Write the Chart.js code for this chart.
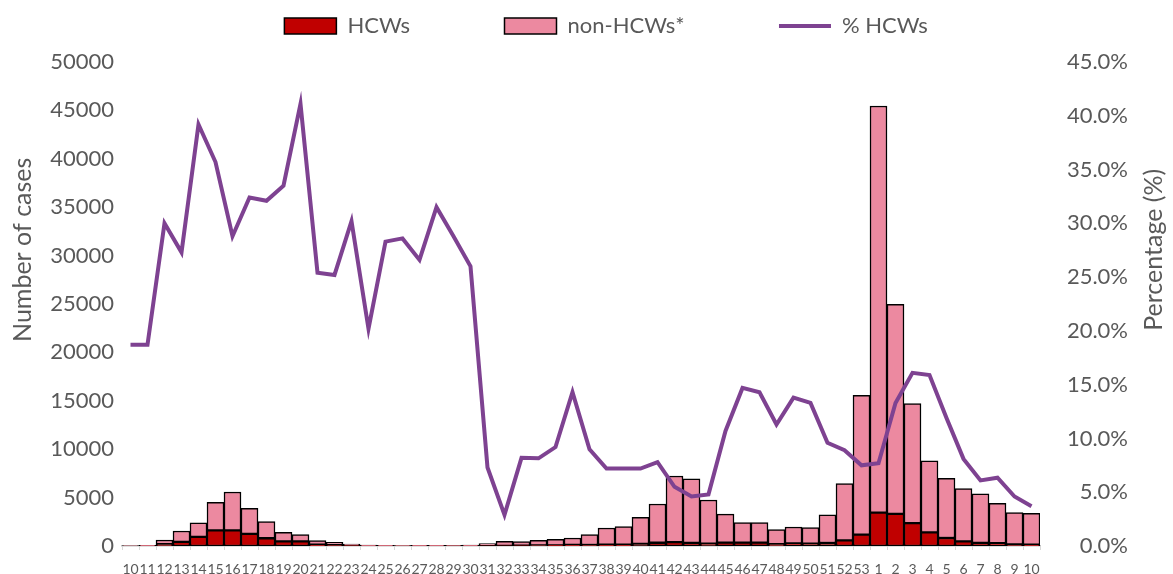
<!DOCTYPE html>
<html>
<head>
<meta charset="utf-8">
<script src="https://cdn.jsdelivr.net/npm/chart.js@4.4.1/dist/chart.umd.min.js"></script>
<style>
    html, body { margin: 0; padding: 0; background: #fff; }
    #chartBox { width: 1173px; height: 574px; }
</style>
</head>
<body>
<div id="chartBox"><canvas id="casesChart" width="1173" height="574"></canvas></div>
<script>
// Epidemiological weeks (year wraps after week 53)
const weeks = ['10', '11', '12', '13', '14', '15', '16', '17', '18', '19', '20', '21', '22', '23', '24', '25',
    '26', '27', '28', '29', '30', '31', '32', '33', '34', '35', '36', '37', '38', '39', '40', '41', '42',
    '43', '44', '45', '46', '47', '48', '49', '50', '51', '52', '53', '1', '2', '3', '4', '5', '6', '7',
    '8', '9', '10'];

// Cases among health care workers
const hcws = [6, 11, 190, 420, 940, 1610, 1610, 1260, 800, 470, 480, 140, 95, 60, 20, 17, 11, 16, 22, 23, 23,
    18, 14, 38, 48, 63, 119, 105, 134, 144, 212, 338, 398, 320, 228, 353, 354, 345, 191, 270, 251, 310, 573, 1168,
    3450, 3320, 2370, 1400, 830, 480, 330, 280, 160, 125];

// Cases among everybody else
const nonHcws = [24, 49, 430, 1130, 1460, 2910, 3970, 2630, 1710, 945, 690, 410, 285, 140, 80, 43, 29, 44, 48, 57, 67,
    232, 456, 422, 542, 627, 711, 1065, 1726, 1856, 2738, 4002, 6832, 6630, 4522, 2947, 2056, 2065, 1499, 1690, 1639, 2920, 5867, 14402,
    42000, 21650, 12330, 7410, 6160, 5440, 5070, 4130, 3280, 3255];

// Share of HCWs among all cases (%)
const pctHcws = [18.7, 18.7, 30.0, 27.3, 39.2, 35.7, 28.8, 32.4, 32.1, 33.5, 41.1, 25.4, 25.2, 30.2, 20.2, 28.3, 28.6, 26.6, 31.5, 28.8, 26.0,
    7.3, 2.9, 8.2, 8.15, 9.2, 14.3, 9.0, 7.2, 7.2, 7.2, 7.8, 5.5, 4.6, 4.8, 10.7, 14.7, 14.3, 11.3, 13.8, 13.3, 9.6, 8.9, 7.5,
    7.7, 13.3, 16.1, 15.9, 11.9, 8.1, 6.1, 6.35, 4.6, 3.7];

const leftTitle = 'Number of cases';
const rightTitle = 'Percentage (%)';

const textColor = '#595959';
const fontFamily = 'Lato, "Open Sans", sans-serif';

Chart.defaults.color = textColor;
Chart.defaults.font.family = fontFamily;

// Axis titles drawn bottom-to-top on both sides
const axisTitles = {
    id: 'axisTitles',
    afterDraw(chart) {
        const ctx = chart.ctx;
        const area = chart.chartArea;
        const y = area.top + (area.bottom - area.top) * 0.388;
        ctx.save();
        ctx.fillStyle = textColor;
        ctx.font = '25px ' + fontFamily;
        ctx.textAlign = 'center';
        ctx.textBaseline = 'middle';

        ctx.save();
        ctx.translate(23, y);
        ctx.rotate(-Math.PI / 2);
        ctx.fillText(leftTitle, 0, 0);
        ctx.restore();

        ctx.save();
        ctx.translate(chart.width - 19, y);
        ctx.rotate(-Math.PI / 2);
        ctx.fillText(rightTitle, 0, 0);
        ctx.restore();

        ctx.restore();
    }
};

const legendSpacer = ' '.repeat(15);

new Chart(document.getElementById('casesChart'), {
    type: 'bar',
    data: {
        labels: weeks,
        datasets: [
            {
                label: 'HCWs',
                data: hcws,
                backgroundColor: '#C00000',
                borderColor: '#000000',
                borderWidth: 1.5,
                borderSkipped: false,
                barPercentage: 1,
                categoryPercentage: 1,
                yAxisID: 'y',
                stack: 'cases',
                order: 1
            },
            {
                label: 'non-HCWs*',
                data: nonHcws,
                backgroundColor: '#EC89A0',
                borderColor: '#000000',
                borderWidth: 1.5,
                borderSkipped: false,
                barPercentage: 1,
                categoryPercentage: 1,
                yAxisID: 'y',
                stack: 'cases',
                order: 1
            },
            {
                type: 'line',
                label: '% HCWs',
                data: pctHcws,
                borderColor: '#7E4291',
                backgroundColor: '#7E4291',
                borderWidth: 4,
                pointRadius: 0,
                tension: 0,
                yAxisID: 'y1',
                order: 0
            }
        ]
    },
    options: {
        responsive: false,
        animation: false,
        layout: {
            padding: { top: 5, left: 0, right: 45, bottom: 0 }
        },
        plugins: {
            tooltip: { enabled: false },
            legend: {
                position: 'top',
                labels: {
                    usePointStyle: true,
                    pointStyleWidth: 52,
                    boxHeight: 16,
                    padding: 10,
                    color: textColor,
                    font: { size: 22 },
                    generateLabels(chart) {
                        const items = Chart.defaults.plugins.legend.labels.generateLabels(chart);
                        items.sort((a, b) => a.datasetIndex - b.datasetIndex);
                        items.forEach((item, i) => {
                            const ds = chart.data.datasets[item.datasetIndex];
                            item.pointStyle = ds.type === 'line' ? 'line' : 'rect';
                            if (i < items.length - 1) item.text = item.text + legendSpacer;
                        });
                        // invisible lead item, nudges the centred row to the right
                        items.unshift({
                            text: '  ',
                            fillStyle: 'rgba(0,0,0,0)',
                            strokeStyle: 'rgba(0,0,0,0)',
                            fontColor: 'rgba(0,0,0,0)',
                            lineWidth: 0,
                            pointStyle: 'line',
                            hidden: false,
                            datasetIndex: -1
                        });
                        return items;
                    }
                }
            },
            // empty spacer between legend and plot
            subtitle: {
                display: true,
                text: ' ',
                position: 'top',
                weight: 500,
                font: { size: 10, lineHeight: 1.5 },
                padding: 0
            }
        },
        scales: {
            x: {
                stacked: true,
                grid: {
                    display: true,
                    drawOnChartArea: false,
                    drawTicks: true,
                    tickLength: 4,
                    color: '#D9D9D9'
                },
                border: { display: true, color: '#BFBFBF', width: 1.5 },
                ticks: {
                    autoSkip: false,
                    maxRotation: 0,
                    minRotation: 0,
                    padding: 11,
                    color: textColor,
                    font: { size: 14 }
                },
                afterFit(scale) {
                    scale.height = 28;
                }
            },
            y: {
                type: 'linear',
                position: 'left',
                stacked: true,
                min: 0,
                max: 50000,
                grid: { display: false, drawTicks: false },
                border: { display: false },
                ticks: {
                    stepSize: 5000,
                    padding: 8,
                    color: textColor,
                    font: { size: 22 },
                    callback: (value) => String(value)
                },
                afterFit(scale) {
                    scale.width = 122;
                    scale.paddingBottom = 0;
                }
            },
            y1: {
                type: 'linear',
                position: 'right',
                min: 0,
                max: 45,
                grid: { display: false, drawTicks: false },
                border: { display: false },
                ticks: {
                    stepSize: 5,
                    padding: 22,
                    crossAlign: 'far',
                    color: textColor,
                    font: { size: 22 },
                    callback: (value) => value.toFixed(1) + '%'
                },
                afterFit(scale) {
                    scale.width = 88;
                    scale.paddingBottom = 0;
                }
            }
        }
    },
    plugins: [axisTitles]
});
</script>
</body>
</html>
